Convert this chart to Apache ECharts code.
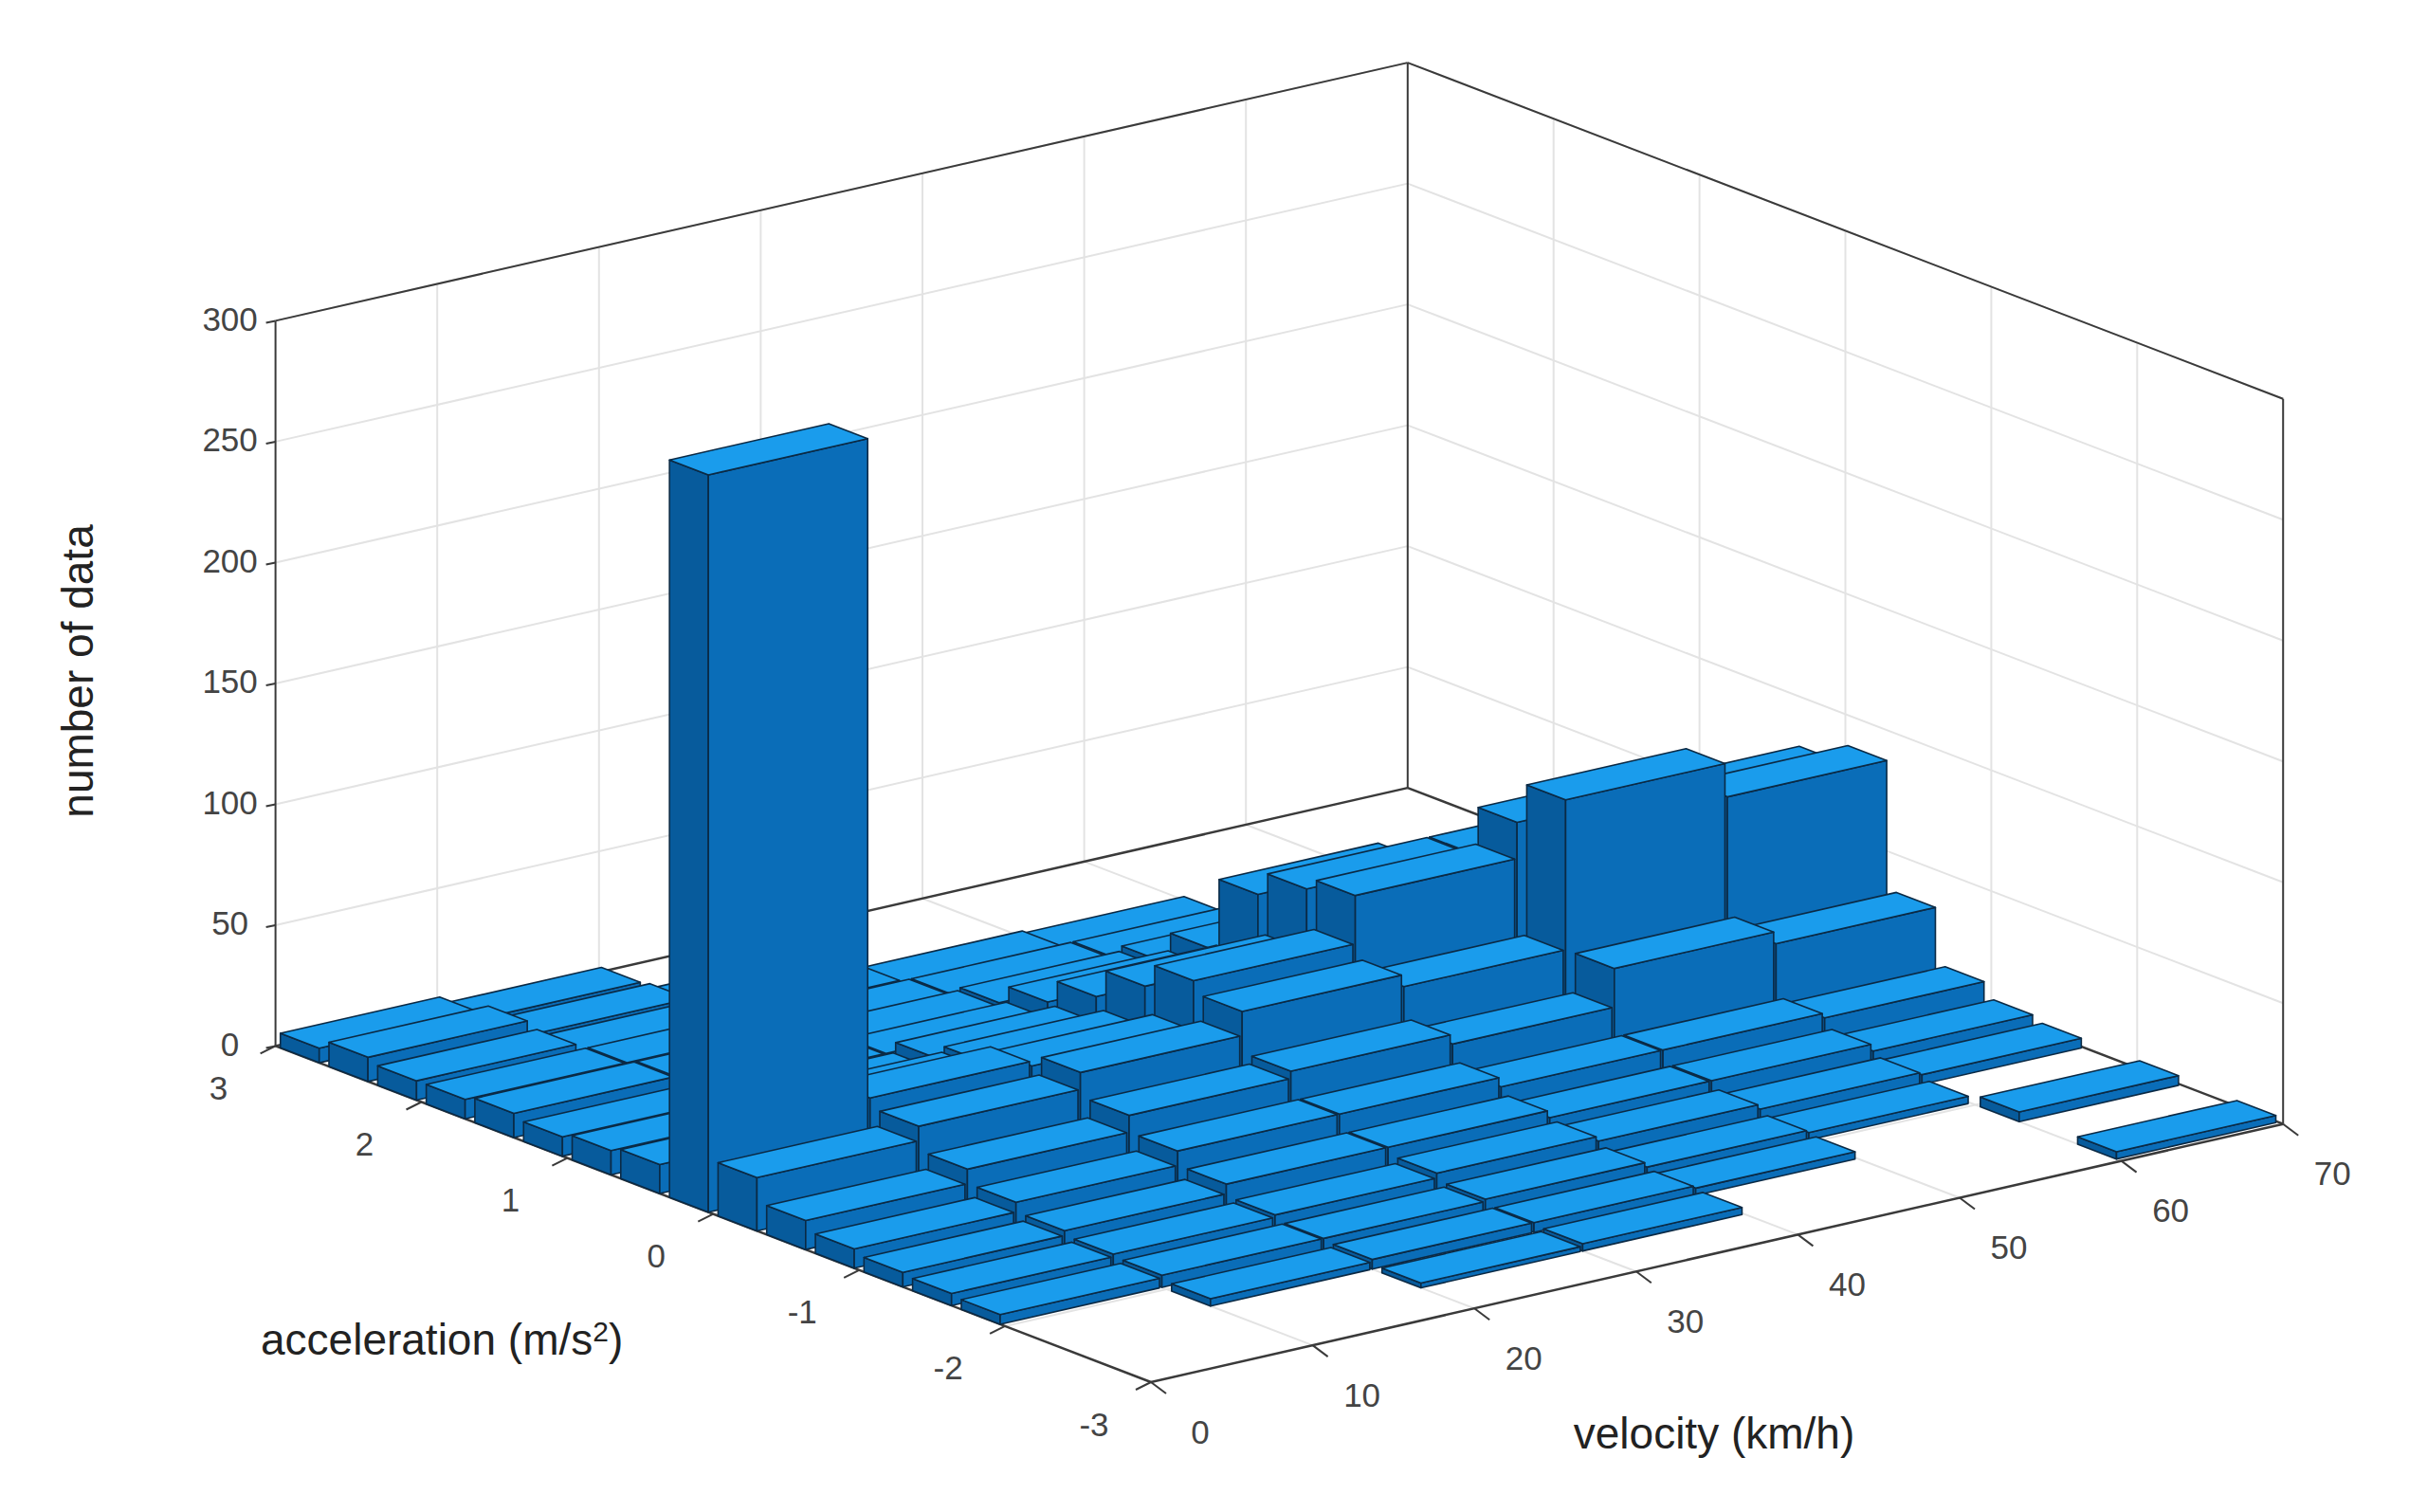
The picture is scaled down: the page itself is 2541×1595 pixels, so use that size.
<!DOCTYPE html>
<html><head><meta charset="utf-8">
<script src="https://cdn.jsdelivr.net/npm/echarts@6/dist/echarts.min.js"></script>
<style>html,body{margin:0;padding:0;background:#fff}#c{width:2541px;height:1595px}</style>
</head><body><div id="c"></div>
<script>
// velocity bin edges (km/h) and acceleration bin edges (m/s^2)
const velocityBins = [0, 10, 20, 30, 40, 50, 60, 70];
const accelBins = [-3, -2.667, -2.333, -2, -1.667, -1.333, -1, -0.667, -0.333, 0, 0.333, 0.667, 1, 1.333, 1.667, 2, 2.333, 2.667, 3];
// counts per velocity bin, listed from a=-3 to a=+3
const v0_10  = [0,0,0,4,5,6,8,12,22,305,12,10,8,10,8,8,10,6];
const v10_20 = [0,0,3,5,6,8,12,18,28,32,22,14,12,10,8,5,4,3];
const v20_30 = [0,2,4,5,7,12,18,25,35,30,24,18,12,9,6,4,2,0];
const v30_40 = [0,3,4,6,9,12,18,28,45,50,40,28,18,10,6,3,0,0];
const v40_50 = [0,0,3,4,7,9,14,24,40,70,65,55,25,12,6,2,0,0];
const v50_60 = [0,0,0,3,5,9,14,40,102,85,65,22,9,4,2,0,0,0];
const v60_70 = [3,0,4,0,4,6,12,35,88,80,22,10,5,2,0,0,0,0];
const counts = [v0_10, v10_20, v20_30, v30_40, v40_50, v50_60, v60_70];
const velocityTicks = [0,10,20,30,40,50,60,70];
const accelTicks = [-3,-2,-1,0,1,2,3];
const zTicks = [0,50,100,150,200,250,300];

// axonometric projection (view geometry)
const O = [1214, 1458], VX = [17.06, -3.89], AX = [-153.9, -59.1], ZS = 2.55;
function P(v, a, z) {
  return [O[0] + v*VX[0] + (a+3)*AX[0], O[1] + v*VX[1] + (a+3)*AX[1] - z*ZS];
}
const grid = '#e3e3e3', axisC = '#3a3a3a', font = 'Liberation Sans';
const G = [];
function line(p, q, c, w, z) { G.push({type:'line', z:z||0, shape:{x1:p[0],y1:p[1],x2:q[0],y2:q[1]}, style:{stroke:c, lineWidth:w}, silent:true}); }
function text(t, p, opt) { G.push(Object.assign({type:'text', z:10, x:p[0], y:p[1], style:Object.assign({text:t, fill:'#444', font:'35px '+font, align:'center', verticalAlign:'middle'}, opt.style||{})}, opt.extra||{})); }
// back walls grid
velocityTicks.forEach(v => { if (v>0 && v<70) { line(P(v,3,0), P(v,3,300), grid, 2); line(P(v,-3,0), P(v,3,0), grid, 2); } });
accelTicks.forEach(a => { if (a>-3 && a<3) { line(P(70,a,0), P(70,a,300), grid, 2); line(P(0,a,0), P(70,a,0), grid, 2); } });
zTicks.forEach(z => { if (z>0) { line(P(0,3,z), P(70,3,z), grid, 2); line(P(70,3,z), P(70,-3,z), grid, 2); } });
// box edges
line(P(0,3,0), P(0,3,300), axisC, 2); line(P(70,3,0), P(70,3,300), axisC, 2); line(P(70,-3,0), P(70,-3,300), axisC, 2);
line(P(0,3,300), P(70,3,300), axisC, 2); line(P(70,3,300), P(70,-3,300), axisC, 2);
line(P(0,3,0), P(70,3,0), axisC, 2.5); line(P(70,3,0), P(70,-3,0), axisC, 2.5);
line(P(0,-3,0), P(70,-3,0), axisC, 2.5); line(P(0,-3,0), P(0,3,0), axisC, 2.5);
// ticks + labels
zTicks.forEach(z => { const p = P(0,3,z); line(p, [p[0]-10,p[1]+2], axisC, 2); text(String(z), [p[0]-48, p[1]-2], {}); });
velocityTicks.forEach(v => { const p = P(v,-3,0); line(p, [p[0]+16,p[1]+12], axisC, 2); text(String(v), [p[0]+52, p[1]+52], {}); });
accelTicks.forEach(a => { const p = P(0,a,0); line(p, [p[0]-16,p[1]+8], axisC, 2); text(String(a), [p[0]-60, p[1]+44], {}); });
text('number of data', [82, 708], {style:{font:'46px '+font, fill:'#222'}, extra:{rotation:Math.PI/2}});
G.push({type:'text', z:10, x:275, y:1413, style:{rich:{n:{font:'46px '+font, fill:'#222'}, s:{font:'30px '+font, fill:'#222', verticalAlign:'top', padding:[0,0,18,0]}}, text:'{n|acceleration (m/s}{s|2}{n|)}', verticalAlign:'middle'}});
text('velocity (km/h)', [1808, 1512], {style:{font:'46px '+font, fill:'#222'}});

// bar data, sorted back to front
const bars = [];
for (let j = accelBins.length-2; j >= 0; j--)
  for (let i = velocityBins.length-2; i >= 0; i--)
    if (counts[i][j] > 0) bars.push([i, j, counts[i][j]]);

const chart = echarts.init(document.getElementById('c'), null, {renderer:'svg'});
chart.setOption({
  animation:false,
  graphic: G,
  series: [{
    type:'custom', coordinateSystem:'none', z:5, data: bars,
    renderItem: function (params, api) {
      const i = api.value(0), j = api.value(1), h = api.value(2);
      const v0 = velocityBins[i], v1 = velocityBins[i+1] - 0.15;
      const da = accelBins[j+1] - accelBins[j];
      const a0 = accelBins[j] + da*0.1, a1 = accelBins[j+1] - da*0.1;
      const st = c => ({fill:c, stroke:'#0b2a45', lineWidth:1.6, lineJoin:'round'});
      return {type:'group', children:[
        {type:'polygon', shape:{points:[P(v0,a0,0),P(v0,a1,0),P(v0,a1,h),P(v0,a0,h)]}, style:st('#075b9c')},
        {type:'polygon', shape:{points:[P(v0,a0,0),P(v1,a0,0),P(v1,a0,h),P(v0,a0,h)]}, style:st('#0a6db8')},
        {type:'polygon', shape:{points:[P(v0,a0,h),P(v1,a0,h),P(v1,a1,h),P(v0,a1,h)]}, style:st('#1a9cec')}
      ]};
    }
  }]
});
</script></body></html>
